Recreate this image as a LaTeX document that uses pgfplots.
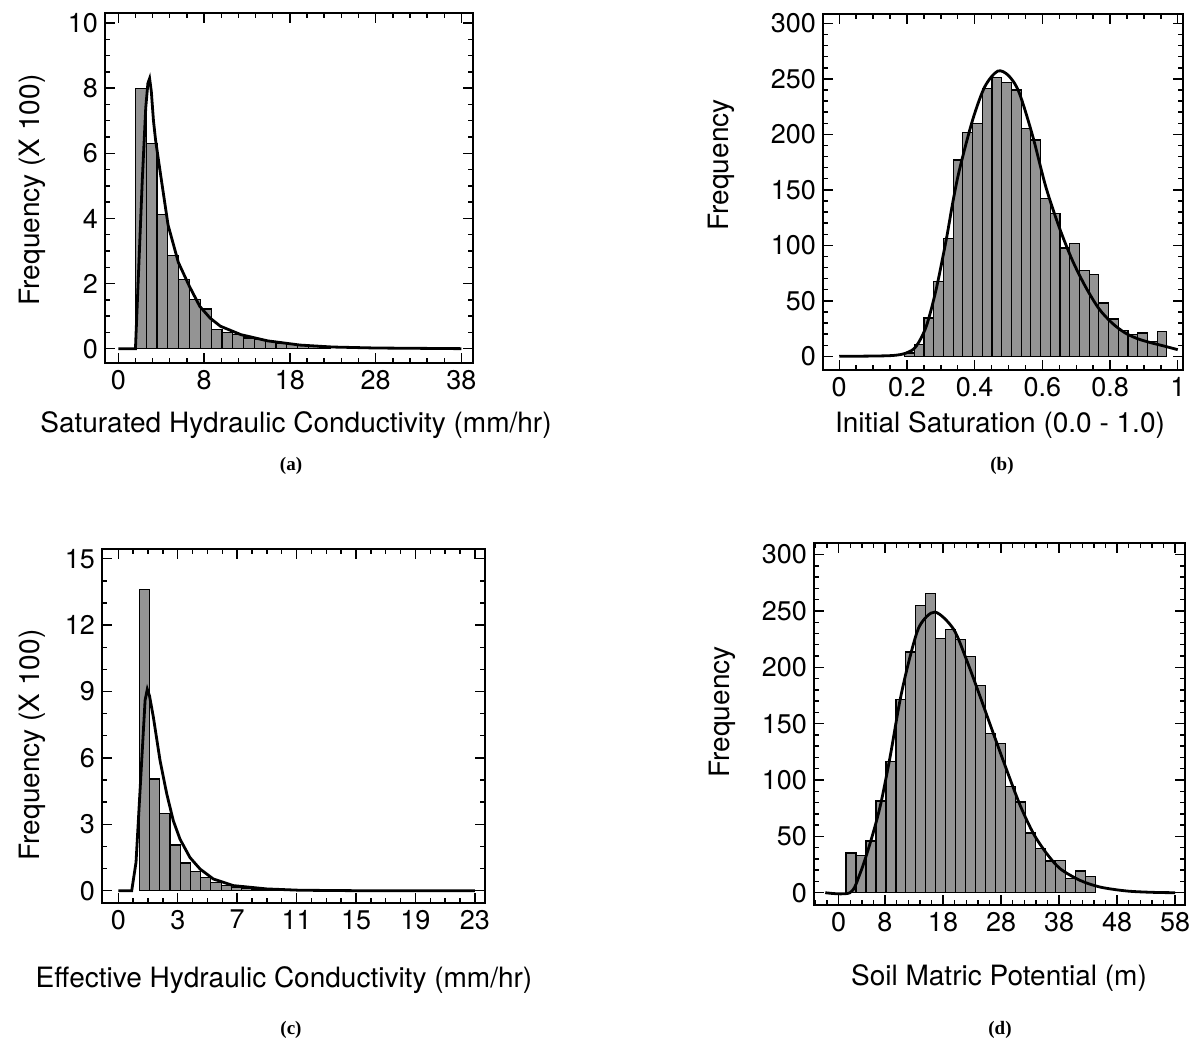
\documentclass[border=0pt]{standalone}
\usepackage{fontspec}
\setmainfont{TeX Gyre Heros}
\newfontfamily\capfont{Liberation Serif}
\usepackage{pgfplots}
\pgfplotsset{compat=1.18}
\newcommand\lab{\fontsize{14}{16}\selectfont}
\newcommand\capf{\capfont\bfseries\fontsize{9.5}{11}\selectfont}
\pgfplotsset{
  hist/.style={
    scale only axis,
    anchor=south west,
    axis line style={line width=1pt},
    tick align=inside,
    major tick length=5pt,
    minor tick length=2.5pt,
    every tick/.style={black, line width=0.7pt},
    tick label style={font=\fontsize{13.5}{15}\selectfont},
    /pgf/number format/assume math mode=true,
  },
  bars/.style={ybar interval, fill=black!42, draw=black, line width=0.6pt},
  fit/.style={black, line width=1.4pt},
}
\begin{document}
\begin{tikzpicture}[x=1pt,y=1pt]
\path[use as bounding box] (0,0) rectangle (595,524);

% ---------- (a)
\begin{axis}[hist, at={(52.5pt,342.5pt)}, width=184pt, height=175pt,
  xmin=-3.55, xmax=39.35, ymin=-0.44, ymax=10.31,
  xtick={-2,8,18,28,38}, xticklabels={0,8,18,28,38}, minor xtick={-2,0,...,38},
  ytick={0,2,...,10}, minor y tick num=3]
\addplot[bars] coordinates {
(0,8.0) (1.26,6.29) (2.52,4.11) (3.78,2.85) (5.04,2.12) (6.30,1.50) (7.56,1.22)
(8.82,0.58) (10.08,0.50) (11.34,0.43) (12.60,0.33) (13.86,0.28) (15.12,0.22)
(16.38,0.16) (17.64,0.12) (18.90,0.09) (20.16,0.06) (21.42,0.04) (22.68,0)};
\addplot[fit] coordinates {
(-2,0) (0,0) (0.4,2.6) (0.8,5.2) (1.2,7.4) (1.45,8.15) (1.65,8.3) (1.85,7.9) (2.1,7.0)
(2.35,6.4) (2.9,5.4) (3.8,3.8) (5.0,2.65) (6.3,1.91) (7.5,1.3) (8.7,0.94) (9.9,0.69)
(12.3,0.43) (15.4,0.24) (19.2,0.11) (23,0.05) (28,0.02) (38,0)};
\end{axis}

% ---------- (b)
\begin{axis}[hist, at={(411.5pt,339pt)}, width=180pt, height=178pt,
  xmin=-0.048, xmax=1.0155, ymin=-12.3, ymax=308.5,
  xtick={0,0.2,0.4,0.6,0.8,1}, minor x tick num=3,
  ytick={0,50,...,300}, minor y tick num=4]
\addplot[bars] coordinates {
(0.1930,3) (0.2217,10.5) (0.2504,34.5) (0.2791,67.6) (0.3078,106) (0.3365,177)
(0.3652,202) (0.3939,210) (0.4226,241) (0.4513,251) (0.4800,247) (0.5087,240)
(0.5374,205) (0.5661,195) (0.5948,142) (0.6235,128.5) (0.6522,97.6) (0.6809,101.5)
(0.7096,77.5) (0.7383,73.6) (0.7670,48) (0.7957,33.6) (0.8244,23.4) (0.8531,19.5)
(0.8818,21) (0.9105,13.5) (0.9392,22.5) (0.9679,0)};
\addplot[fit, smooth, tension=0.5] coordinates {
(0,0) (0.149,0.6) (0.198,3) (0.227,9) (0.257,27) (0.286,60) (0.316,105) (0.335,138)
(0.355,168) (0.394,213) (0.43,243) (0.468,257) (0.50,253) (0.531,238) (0.571,199)
(0.61,153) (0.649,117) (0.688,87) (0.727,63) (0.767,43) (0.806,30) (0.845,21)
(0.884,15.6) (0.924,12) (0.963,9) (1.0,6)};
\end{axis}

% ---------- (c)
\begin{axis}[hist, at={(51pt,72.5pt)}, width=191.5pt, height=177pt,
  xmin=-2.10, xmax=23.68, ymin=-0.556, ymax=15.44,
  xtick={-1,3,7,11,15,19,23}, xticklabels={0,3,7,11,15,19,23}, minor x tick num=3,
  ytick={0,3,...,15}, minor y tick num=2]
\addplot[bars] coordinates {
(0.413,13.6) (1.101,5.05) (1.789,3.5) (2.477,2.06) (3.165,1.25) (3.853,0.86)
(4.541,0.6) (5.229,0.38) (5.917,0.23) (6.605,0.15) (7.293,0.10) (7.981,0.07)
(8.669,0.05) (9.357,0.03) (10.045,0)};
\addplot[fit] coordinates {
(-1,0) (-0.1,0) (0.19,1.28) (0.5,5) (0.8,8.6) (0.95,9.1) (1.1,8.8) (1.36,7.83)
(1.81,5.87) (2.26,4.37) (2.70,3.16) (3.15,2.33) (3.82,1.5) (4.50,0.98) (5.39,0.53)
(6.74,0.23) (8.99,0.08) (11.2,0.02) (15,0) (23,0)};
\end{axis}

% ---------- (d)
\begin{axis}[hist, at={(407pt,71.5pt)}, width=185.5pt, height=181pt,
  xmin=-4.24, xmax=59.72, ymin=-10.9, ymax=310.3,
  xtick={0,8,18,28,38,48,58}, minor xtick={-4,-2,...,58},
  ytick={0,50,...,300}, minor y tick num=4]
\addplot[bars] coordinates {
(1.28,35.2) (3.00,33.1) (4.72,45.9) (6.44,81.4) (8.16,116.6) (9.88,171.3)
(11.60,213.6) (13.32,255) (15.04,265.4) (16.76,225.4) (18.48,233.4) (20.20,224.6)
(21.92,209.8) (23.64,184) (25.36,141.1) (27.08,132.2) (28.80,94.4) (30.52,80.5)
(32.24,53) (33.96,39) (35.68,28.1) (37.40,28.7) (39.12,12.4) (40.84,19.2)
(42.56,14.5) (44.28,0)};
\addplot[fit, smooth, tension=0.5] coordinates {
(-2.3,0) (1.97,0) (3.69,16.9) (5.41,43.5) (7.14,76) (8.86,120) (10.6,171) (12.3,209)
(14.0,237) (16.6,249) (19.8,234) (22.1,206) (24.4,174) (26.7,141) (29.0,108.6)
(31.3,77.5) (33.6,52.4) (35.9,34.6) (38.2,21.3) (41.6,11) (45.1,5) (49.7,1.5)
(54.3,0.3) (58,0)};
\end{axis}

% ---------- labels
\node[rotate=90, font=\lab] at (16,429) {Frequency (X 100)};
\node[font=\lab] at (148,311.5) {Saturated Hydraulic Conductivity (mm/hr)};
\node[font=\capf] at (145.5,291) {(a)};

\node[rotate=90, font=\lab] at (360.5,441.5) {Frequency};
\node[font=\lab] at (500,311.5) {Initial Saturation (0.0 - 1.0)};
\node[font=\capf] at (501,291) {(b)};

\node[rotate=90, font=\lab] at (16,151.5) {Frequency (X 100)};
\node[font=\lab] at (142,34) {Effective Hydraulic Conductivity (mm/hr)};
\node[font=\capf] at (145.5,9) {(c)};

\node[rotate=90, font=\lab] at (361,168) {Frequency};
\node[font=\lab] at (499.5,35) {Soil Matric Potential (m)};
\node[font=\capf] at (500,9) {(d)};
\end{tikzpicture}
\end{document}
